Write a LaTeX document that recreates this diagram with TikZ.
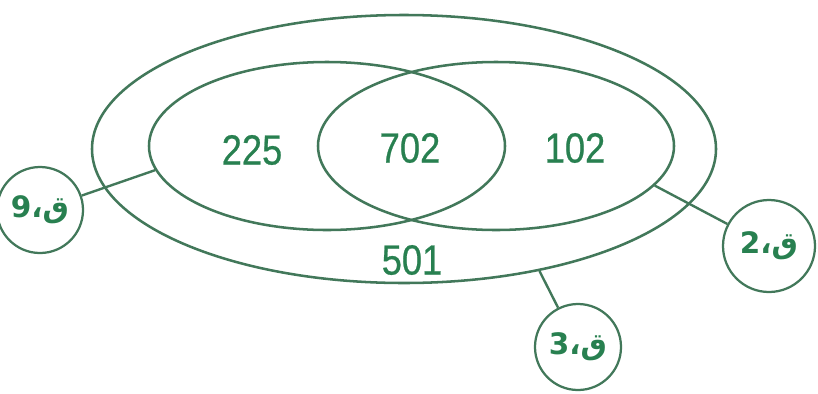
\documentclass[tikz,border=0pt]{standalone}
\usepackage{fontspec}
\setmainfont[FakeStretch=0.86, FakeBold=0.6]{Liberation Sans}
\newfontfamily\arabicfont[Script=Arabic]{DejaVu Sans Bold}
\TeXXeTstate=1
\usepackage{xcolor}
\usepackage{tikz}
\usetikzlibrary{shapes.geometric}

\definecolor{garis}{RGB}{66,120,90}
\definecolor{angka}{RGB}{40,128,80}

\begin{document}
\begin{tikzpicture}[
    x=0.25mm, y=-0.25mm,
    himpunan/.style={draw=garis, ellipse, line width=1.8pt, inner sep=0pt},
    bulat/.style={draw=garis, circle, line width=1.6pt, inner sep=0pt,
                  minimum size=21.5mm, text=angka,
                  font=\arabicfont\fontsize{21}{24}\selectfont},
    sambung/.style={draw=garis, line width=1.7pt},
    bilangan/.style={text=angka, font=\fontsize{30}{34}\selectfont}
  ]
    \useasboundingbox (0,0) rectangle (818,393);
    \node[himpunan, minimum width=156mm, minimum height=67mm] (s3) at (404,149) {};
    \node[himpunan, minimum width=89mm, minimum height=42mm] (s9) at (327,146) {};
    \node[himpunan, minimum width=89mm, minimum height=42mm] (s2) at (496,146) {};
    \node[bilangan] (n225) at (252,150) {225};
    \node[bilangan] (n702) at (410,148) {702};
    \node[bilangan] (n102) at (575,148) {102};
    \node[bilangan] (n501) at (412,260) {501};
    \node[bulat] (q9) at (40,210) {\beginR ق،9\endR};
    \node[bulat, minimum size=23mm] (q2) at (769,246) {\beginR ق،2\endR};
    \node[bulat] (q3) at (578,347) {\beginR ق،3\endR};
    \draw[sambung] (s9.188) -- (q9);
    \draw[sambung] (s2.346) -- (q2);
    \draw[sambung] (s3.318) -- (q3);
  \end{tikzpicture}
\end{document}
